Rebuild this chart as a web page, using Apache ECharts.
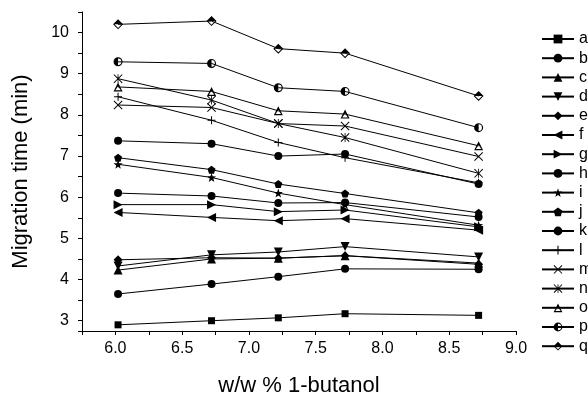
<!DOCTYPE html>
<html>
<head>
<meta charset="utf-8">
<script src="https://cdn.jsdelivr.net/npm/echarts/dist/echarts.min.js"></script>
<style>
  html, body { margin: 0; padding: 0; background: #fff; }
  #chart { width: 588px; height: 394px; }
</style>
</head>
<body>
<div id="chart"></div>
<script>
// butanol content (w/w %)
const butanol = [6.02, 6.72, 7.22, 7.72, 8.72];

// migration times (min), one array per analyte
const a = [2.90, 3.00, 3.07, 3.17, 3.13];
const b = [3.65, 3.89, 4.07, 4.26, 4.25];
const c = [4.23, 4.50, 4.52, 4.58, 4.40];
const d = [4.33, 4.60, 4.67, 4.80, 4.55];
const e = [4.48, 4.53, 4.52, 4.58, 4.37];
const f = [5.63, 5.51, 5.43, 5.48, 5.20];
const g = [5.82, 5.82, 5.65, 5.69, 5.28];
const h = [6.10, 6.03, 5.86, 5.87, 5.52];
const i = [6.80, 6.48, 6.10, 5.82, 5.32];
const j = [6.96, 6.67, 6.32, 6.09, 5.62];
const k = [7.37, 7.30, 7.00, 7.05, 6.32];
const l = [8.44, 7.87, 7.33, 6.96, 6.35];
const m = [8.24, 8.18, 7.79, 7.73, 6.99];
const n = [8.88, 8.36, 7.79, 7.45, 6.58];
const o = [8.68, 8.57, 8.10, 8.02, 7.25];
const p = [9.29, 9.25, 8.66, 8.57, 7.69];
const q = [10.20, 10.28, 9.61, 9.50, 8.46];

const names = ["a", "b", "c", "d", "e", "f", "g", "h", "i", "j", "k", "l", "m", "n", "o", "p", "q"];
const values = [a, b, c, d, e, f, g, h, i, j, k, l, m, n, o, p, q];

// marker shapes (origin-like symbols)
const STAR = "path://M10,0L12.35,6.76L19.51,6.91L13.8,11.24L15.88,18.09L10,14L4.12,18.09L6.2,11.24L0.49,6.91L7.65,6.76Z";
const PENTA = "path://M10,0L19.51,6.91L15.88,18.09L4.12,18.09L0.49,6.91Z";
const PLUS = "path://M8.75,0h2.5v8.75h8.75v2.5h-8.75v8.75h-2.5v-8.75h-8.75v-2.5h8.75Z";
const CROSS = "path://M0,1.5L1.5,0L10,8.5L18.5,0L20,1.5L11.5,10L20,18.5L18.5,20L10,11.5L1.5,20L0,18.5L8.5,10Z";
const ASTER = "path://M0,1.5L1.5,0L10,8.5L18.5,0L20,1.5L11.5,10L20,18.5L18.5,20L10,11.5L1.5,20L0,18.5L8.5,10Z M9.1,0h1.8v20h-1.8Z";
const OPEN_TRI = "path://M10,0L20,18L0,18Z M10,7.5L4,15.6L16,15.6Z";
const HALF_CIRC = "path://M10,0A10,10 0 1,1 10,20A10,10 0 1,1 10,0Z M10,2.6L10,17.4A7.4,7.4 0 0,0 10,2.6Z";
const HALF_DIA = "path://M10,0L20,10L10,20L0,10Z M2.8,10L10,17.2L17.2,10Z";

const markers = [
  ["rect", 7], ["circle", 8], ["triangle", 9], ["path://M0,0L20,0L10,18Z", 9],
  ["diamond", 9], ["path://M0,10L18,0L18,20Z", 9], ["path://M0,0L18,10L0,20Z", 9],
  ["circle", 8], [STAR, 9], [PENTA, 8], ["circle", 8], [PLUS, 8], [CROSS, 9],
  [ASTER, 9], [OPEN_TRI, 9], [HALF_CIRC, 9], [HALF_DIA, 10]
];

const font = "Liberation Sans, Arial, sans-serif";
const chart = echarts.init(document.getElementById("chart"), null, { renderer: "canvas" });

const series = names.map((name, idx) => ({
  name: name,
  type: "line",
  data: butanol.map((x, t) => [x, values[idx][t]]),
  symbol: markers[idx][0],
  symbolSize: markers[idx][1],
  showAllSymbol: true,
  lineStyle: { color: "#000", width: 1 },
  itemStyle: { color: "#000", borderWidth: 0 },
  emphasis: { disabled: true },
  animation: false,
}));

chart.setOption({
  animation: false,
  backgroundColor: "#fff",
  grid: { left: 82, right: 72, top: 12, bottom: 63, outerBoundsMode: "none" },
  legend: {
    orient: "vertical",
    left: 536,
    top: 26,
    itemWidth: 32,
    itemHeight: 11,
    itemGap: 3.2,
    selectedMode: false,
    textStyle: { fontFamily: font, fontSize: 16, color: "#000", lineHeight: 14 },
    data: names,
  },
  xAxis: {
    type: "value",
    min: 5.75,
    max: 9.0,
    interval: 0.25,
    name: "w/w % 1-butanol",
    nameLocation: "middle",
    nameGap: 44,
    nameTextStyle: { fontFamily: font, fontSize: 22, color: "#000" },
    axisLine: { lineStyle: { color: "#000", width: 1 } },
    axisTick: { length: 4, lineStyle: { color: "#000" } },
    axisLabel: {
      margin: 10,
      fontFamily: font,
      fontSize: 16,
      color: "#000",
      formatter: (v) => (Math.abs(v * 2 - Math.round(v * 2)) < 1e-6 ? v.toFixed(1) : ""),
    },
    splitLine: { show: false },
  },
  yAxis: {
    type: "value",
    min: 2.75,
    max: 10.5,
    minInterval: 0.5,
    maxInterval: 0.5,
    name: "Migration time (min)",
    nameLocation: "middle",
    nameGap: 50,
    nameTextStyle: { fontFamily: font, fontSize: 22, color: "#000" },
    axisLine: { show: true, lineStyle: { color: "#000", width: 1 } },
    axisTick: { show: true, length: 4, lineStyle: { color: "#000" } },
    axisLabel: {
      margin: 13,
      fontFamily: font,
      fontSize: 16,
      color: "#000",
      formatter: (v) => (Math.abs(v - Math.round(v)) < 1e-6 ? String(Math.round(v)) : ""),
    },
    splitLine: { show: false },
  },
  series: series,
});
</script>
</body>
</html>
